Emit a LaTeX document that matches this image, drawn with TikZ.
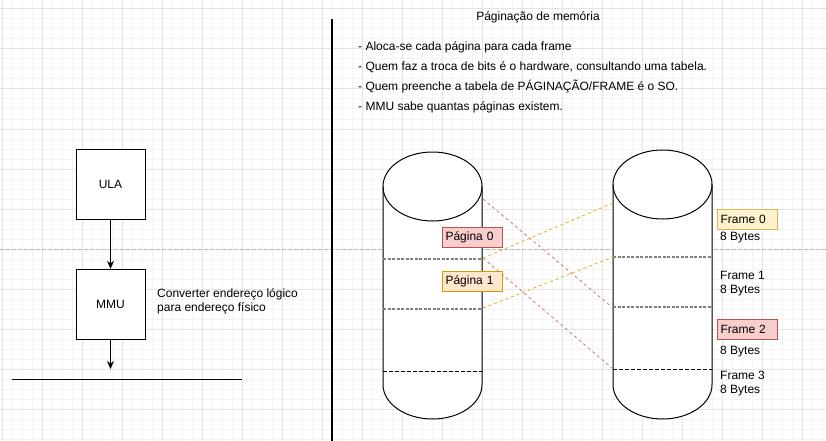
\documentclass[tikz,border=0pt]{standalone}
\usepackage{fontspec}
\setmainfont{Liberation Sans}
\usetikzlibrary{arrows.meta}

\definecolor{gridminor}{HTML}{F4F4F4}
\definecolor{gridmajor}{HTML}{E4E4E4}
\definecolor{quebra}{HTML}{BBBBBB}
\definecolor{paginared}{HTML}{F8CECC}
\definecolor{paginaredline}{HTML}{B85450}
\definecolor{paginaorange}{HTML}{FFE6CC}
\definecolor{paginaorangeline}{HTML}{D79B00}
\definecolor{frameyellow}{HTML}{FFF2CC}
\definecolor{frameyellowline}{HTML}{D6B656}
\definecolor{mapared}{HTML}{D07A78}
\definecolor{mapaorange}{HTML}{E8AA20}

\tikzset{
	bloco/.style={draw, line width=1pt, fill=white, minimum width=69pt, minimum height=70pt, inner sep=0pt},
	rotulo/.style={draw, line width=1pt, minimum width=60pt, minimum height=20pt, inner xsep=3pt, inner ysep=0pt, text width=54pt, align=left},
	texto/.style={anchor=west, align=left, inner sep=0pt},
	cilindro/.style={line width=1pt, fill=white},
	divisao/.style={gray, line width=1.3pt, dash pattern=on 3pt off 1.5pt},
	divfinal/.style={black, line width=0.8pt, dash pattern=on 4pt off 2pt},
	mapa/.style={line width=0.8pt, dash pattern=on 3pt off 3pt},
	seta/.style={line width=1pt, -{Stealth[length=8pt,width=7pt]}},
}

\begin{document}
\begin{tikzpicture}[x=1pt, y=-1pt, font=\fontsize{12}{14}\selectfont]
	\fill[white] (0,0) rectangle (826,441);
	\useasboundingbox (0,0) rectangle (826,441);
	
	% grade
	\foreach \gx in {2,12,...,822} \draw[gridminor, line width=1pt] (\gx,0) -- (\gx,441);
	\foreach \gy in {9,19,...,439} \draw[gridminor, line width=1pt] (0,\gy) -- (826,\gy);
	\foreach \gx in {2,42,...,802} \draw[gridmajor, line width=1pt] (\gx,0) -- (\gx,441);
	\foreach \gy in {9,49,...,409} \draw[gridmajor, line width=1pt] (0,\gy) -- (826,\gy);
	\draw[quebra, line width=1pt, dash pattern=on 4pt off 2pt] (0,249) -- (826,249);
	
	% lado esquerdo
	\node[bloco] (ula) at (110.5,184.3) {ULA};
	\node[bloco] (mmu) at (110.5,304.3) {MMU};
	\coordinate (mmu saida) at (110.5,369);
	\coordinate (barra esq) at (12,379);
	\coordinate (barra dir) at (242,379);
	\draw[seta] (ula) -- (mmu);
	\draw[seta] (mmu) -- (mmu saida);
	\draw[line width=1pt] (barra esq) -- (barra dir);
	\node[texto] (converter) at (157,301) {Converter endereço lógico\\para endereço físico};
	
	\coordinate (sep topo) at (332,19.5);
	\coordinate (sep base) at (332,441);
	\draw[line width=1.3pt] (sep topo) -- (sep base);
	
	% textos
	\node (titulo) at (538,17) {Páginação de memória};
	\node[texto, font=\fontsize{12}{20}\selectfont] (notas) at (358,77) {- Aloca-se cada página para cada frame\\- Quem faz a troca de bits é o hardware, consultando uma tabela.\\- Quem preenche a tabela de PÁGINAÇÃO/FRAME é o SO.\\- MMU sabe quantas páginas existem.};
	
	% cilindros
	\draw[cilindro] (383,186.5) arc[start angle=180, end angle=0, x radius=49.5pt, y radius=34.5pt] -- (482,384.5) arc[start angle=0, end angle=-180, x radius=49.5pt, y radius=34.5pt] -- cycle;
	\draw[line width=1pt] (383,186.5) arc[start angle=180, end angle=360, x radius=49.5pt, y radius=34.5pt];
	\draw[divisao] (383,259) -- (482,259);
	\draw[divisao] (383,309) -- (482,309);
	\draw[divfinal] (383,371) -- (482,371);
	
	\draw[cilindro] (613,184.5) arc[start angle=180, end angle=0, x radius=49.5pt, y radius=34.5pt] -- (712,384.5) arc[start angle=0, end angle=-180, x radius=49.5pt, y radius=34.5pt] -- cycle;
	\draw[line width=1pt] (613,184.5) arc[start angle=180, end angle=360, x radius=49.5pt, y radius=34.5pt];
	\draw[divisao] (613,257) -- (712,257);
	\draw[divisao] (613,307) -- (712,307);
	\draw[divfinal] (613,369) -- (712,369);
	
	% ligacoes pagina -> frame
	\coordinate (log topo) at (483,199);
	\coordinate (log div1) at (483,258);
	\coordinate (log div2) at (483,308);
	\coordinate (fis topo) at (613,203);
	\coordinate (fis div1) at (613,257);
	\coordinate (fis div2) at (613,308);
	\coordinate (fis div3) at (613,369);
	\draw[mapa, mapared] (log topo) -- (fis div2);
	\draw[mapa, mapared] (log div1) -- (fis div3);
	\draw[mapa, mapaorange] (log div1) -- (fis topo);
	\draw[mapa, mapaorange] (log div2) -- (fis div1);
	
	% rotulos
	\node[rotulo, fill=paginared, draw=paginaredline] (pag0) at (472.5,237.3) {Página 0};
	\node[rotulo, fill=paginaorange, draw=paginaorangeline] (pag1) at (472.5,281.8) {Página 1};
	\node[rotulo, fill=frameyellow, draw=frameyellowline] (frame0) at (747.5,219.3) {Frame 0};
	\node[rotulo, fill=paginared, draw=paginaredline] (frame2) at (747.5,329.3) {Frame 2};
	\node[texto] (bytes0) at (720,237.5) {8 Bytes};
	\node[texto] (frame1) at (720,283.5) {Frame 1\\8 Bytes};
	\node[texto] (bytes2) at (720,351.5) {8 Bytes};
	\node[texto] (frame3) at (720,383.5) {Frame 3\\8 Bytes};
\end{tikzpicture}
\end{document}
